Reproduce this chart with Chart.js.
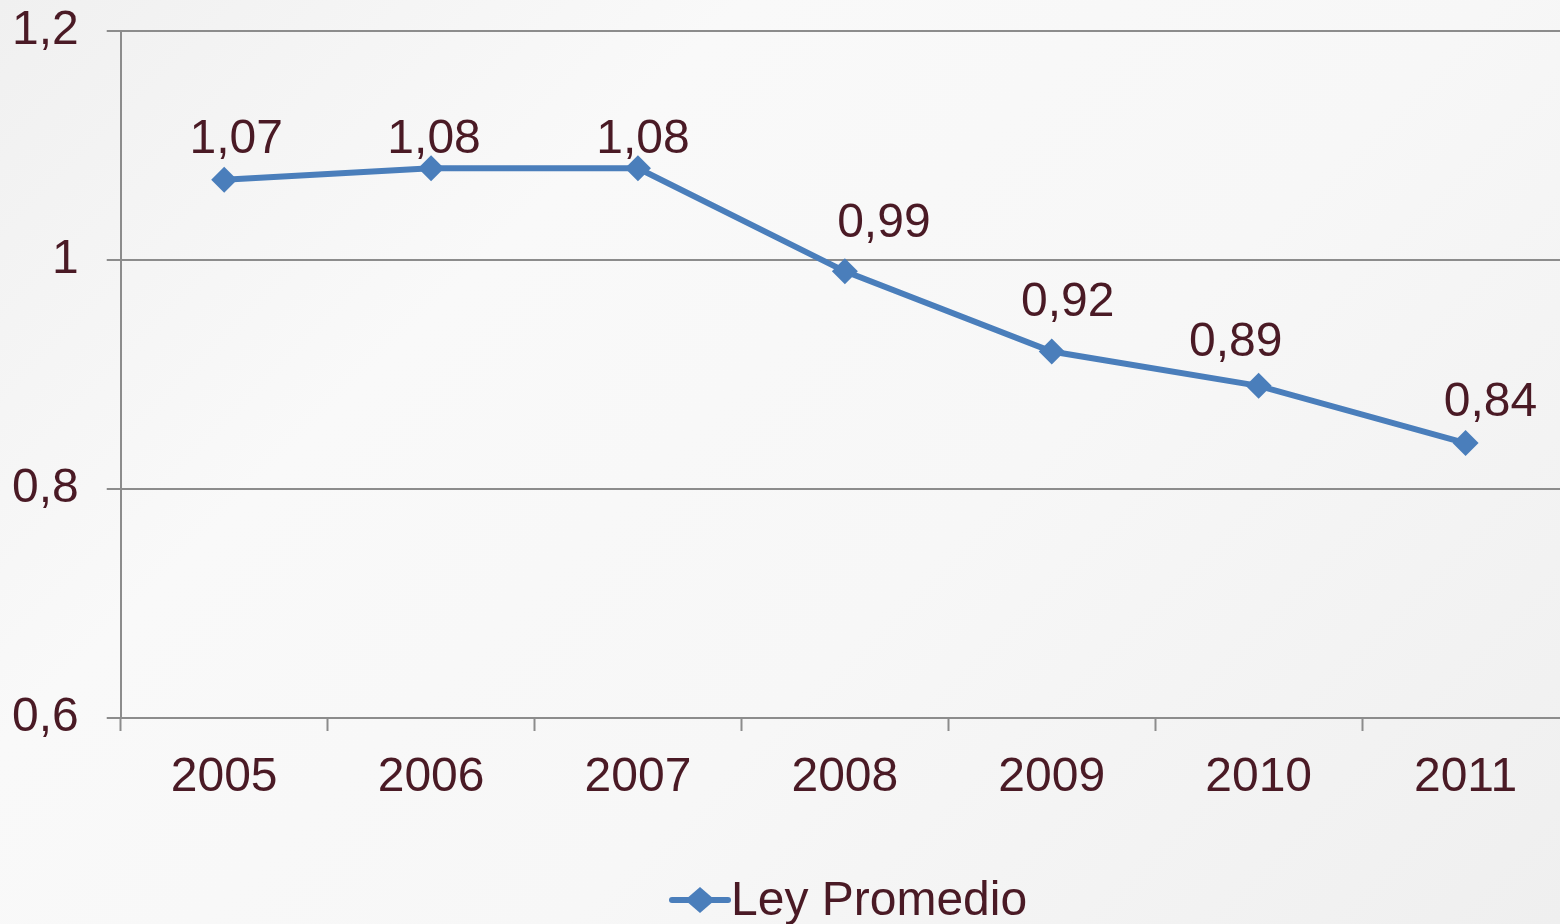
<!DOCTYPE html>
<html>
<head>
<meta charset="utf-8">
<script src="https://cdn.jsdelivr.net/npm/chart.js@4"></script>
<style>
  html, body {
    margin: 0;
    padding: 0;
    width: 1560px;
    height: 924px;
    overflow: hidden;
    background: linear-gradient(135deg, #f0f0f0 0%, #f9f9f9 30%, #f7f7f7 60%, #efefef 100%);
  }
  .wrap {
    width: 1582px;
    height: 950px;
    margin-top: -26px;
  }
</style>
</head>
<body>
<div class="wrap"><canvas id="chart"></canvas></div>
<script>
const years = ["2005", "2006", "2007", "2008", "2009", "2010", "2011"];
const leyPromedio = [1.07, 1.08, 1.08, 0.99, 0.92, 0.89, 0.84];
const yTicks = [0.6, 0.8, 1, 1.2];

const textColor = "#4a1a25";
const lineColor = "#4a7ebb";
const axisColor = "#8c8c8c";
const font = "Liberation Sans, Arial, sans-serif";
const fontSize = 48;

function comma(v) {
  return String(v).replace(".", ",");
}

// value labels drawn above each point
const valueLabels = {
  id: "valueLabels",
  afterDatasetsDraw(chart, args, opts) {
    const ctx = chart.ctx;
    const meta = chart.getDatasetMeta(0);
    ctx.save();
    ctx.font = fontSize + "px " + font;
    ctx.fillStyle = textColor;
    ctx.textAlign = "center";
    ctx.textBaseline = "middle";
    meta.data.forEach((pt, i) => {
      const v = chart.data.datasets[0].data[i];
      const off = opts.offsets[i];
      ctx.fillText(v.toFixed(2).replace(".", ","), pt.x + off[0], pt.y + off[1]);
    });
    ctx.restore();
  },
};

// legend like the office one: line with a diamond, then the series name
const lineLegend = {
  id: "lineLegend",
  afterDraw(chart, args, opts) {
    const ctx = chart.ctx;
    const x = opts.x;
    const y = opts.y;
    ctx.save();
    ctx.strokeStyle = lineColor;
    ctx.lineWidth = 6;
    ctx.lineCap = "round";
    ctx.beginPath();
    ctx.moveTo(x, y);
    ctx.lineTo(x + 56, y);
    ctx.stroke();
    ctx.fillStyle = lineColor;
    ctx.beginPath();
    ctx.moveTo(x + 28, y - 13);
    ctx.lineTo(x + 43, y);
    ctx.lineTo(x + 28, y + 13);
    ctx.lineTo(x + 13, y);
    ctx.closePath();
    ctx.fill();
    ctx.font = fontSize + "px " + font;
    ctx.fillStyle = textColor;
    ctx.textAlign = "left";
    ctx.textBaseline = "middle";
    ctx.fillText(chart.data.datasets[0].label, x + 59, y + 2);
    ctx.restore();
  },
};

const ctx = document.getElementById("chart").getContext("2d");

new Chart(ctx, {
  type: "line",
  data: {
    labels: years,
    datasets: [
      {
        label: "Ley Promedio",
        data: leyPromedio,
        borderColor: lineColor,
        backgroundColor: lineColor,
        borderWidth: 6,
        pointStyle: "rectRot",
        pointRadius: 13,
        pointHoverRadius: 13,
        pointBorderWidth: 0,
        tension: 0,
      },
    ],
  },
  options: {
    responsive: true,
    maintainAspectRatio: false,
    animation: false,
    events: [],
    layout: {
      padding: { left: -16, right: -21, top: 0, bottom: 0 },
    },
    scales: {
      x: {
        offset: true,
        afterFit(axis) {
          axis.height = 206;
        },
        grid: {
          offset: true,
          drawOnChartArea: false,
          drawTicks: true,
          tickLength: 13,
          tickWidth: 2,
          tickColor: axisColor,
        },
        border: { color: axisColor, width: 2 },
        ticks: {
          color: textColor,
          font: { family: font, size: fontSize },
          padding: 18,
          maxRotation: 0,
        },
      },
      y: {
        min: 0.6,
        max: 1.2,
        afterBuildTicks(axis) {
          axis.ticks = yTicks.map((v) => ({ value: v }));
        },
        grid: {
          color: axisColor,
          lineWidth: 2,
          tickLength: 14,
          tickColor: axisColor,
        },
        border: { color: axisColor, width: 2 },
        ticks: {
          color: textColor,
          font: { family: font, size: fontSize },
          padding: 28,
          callback: (v) => comma(Math.round(v * 10) / 10),
        },
      },
    },
    plugins: {
      legend: { display: false },
      tooltip: { enabled: false },
      valueLabels: {
        offsets: [
          [12, -40],
          [3, -28],
          [5, -28],
          [39, -48],
          [16, -49],
          [-23, -43],
          [25, -40],
        ],
      },
      lineLegend: { x: 672, y: 926 },
    },
  },
  plugins: [valueLabels, lineLegend],
});
</script>
</body>
</html>
